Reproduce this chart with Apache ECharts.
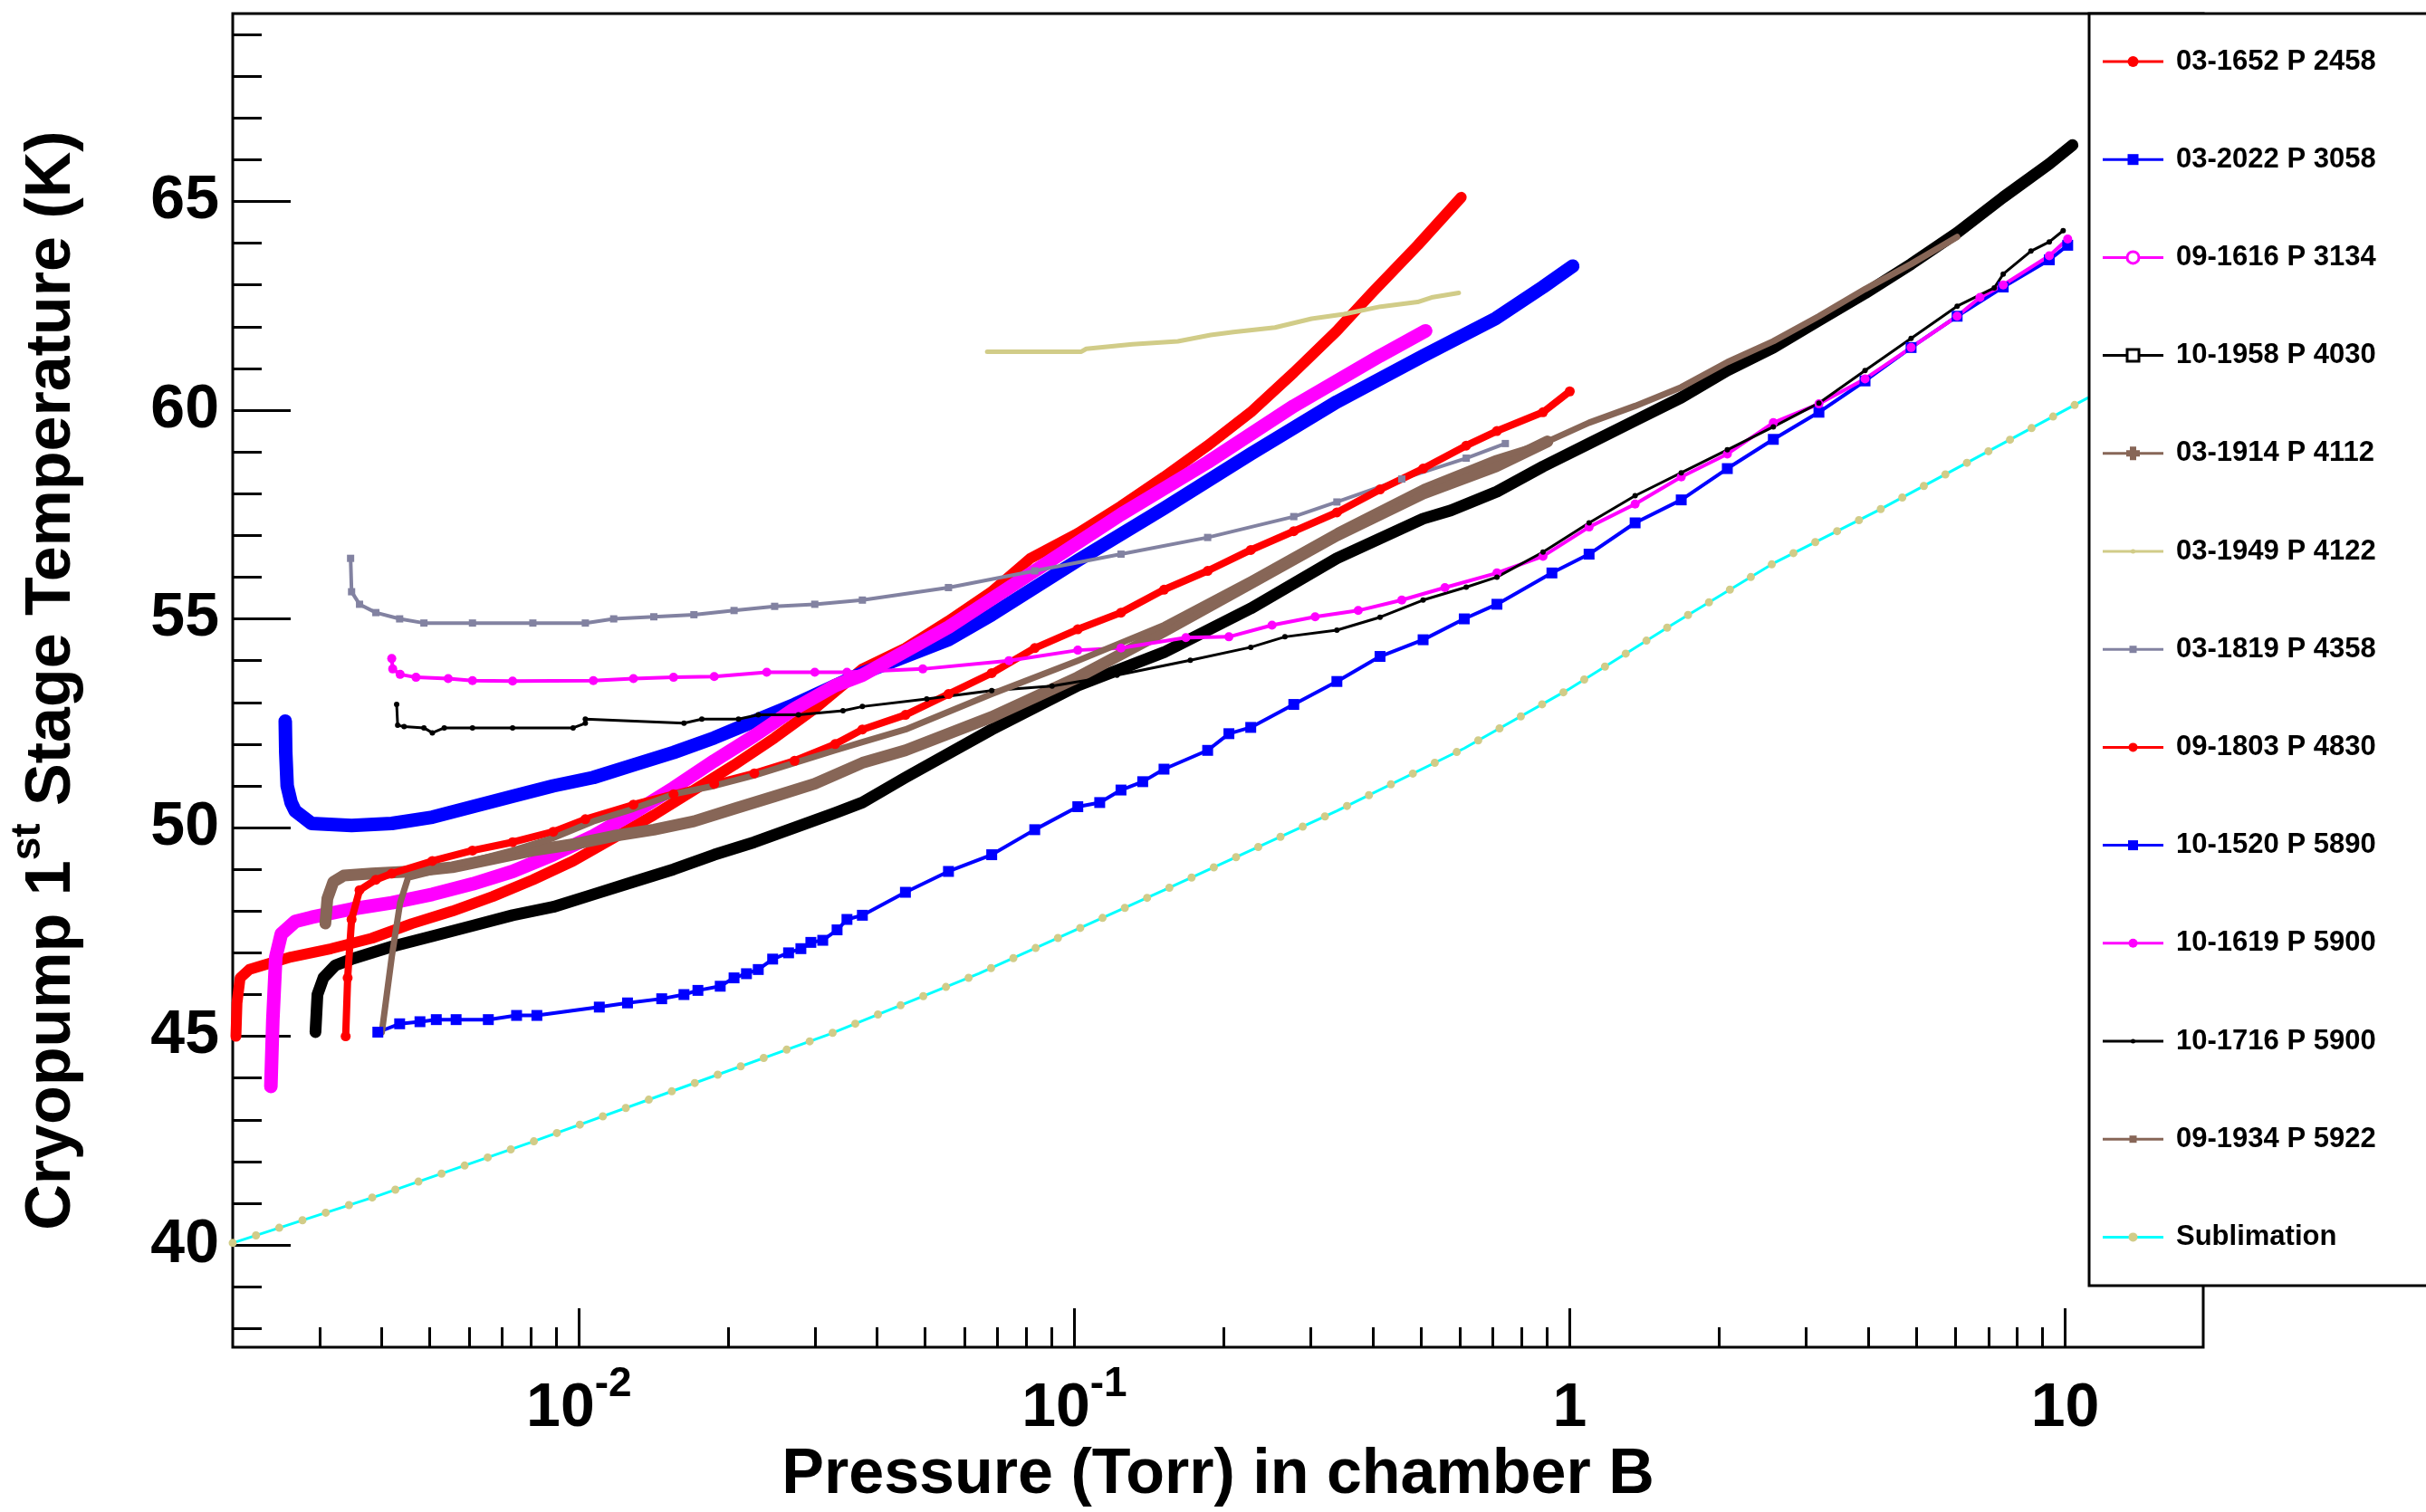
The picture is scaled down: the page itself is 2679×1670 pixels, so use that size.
<!DOCTYPE html>
<html>
<head>
<meta charset="utf-8">
<script src="https://cdn.jsdelivr.net/npm/echarts@6/dist/echarts.min.js"></script>
<style>
  html, body { margin: 0; padding: 0; background: #ffffff; }
  #chart { width: 2679px; height: 1670px; }
</style>
</head>
<body>
<div id="chart"></div>
<script>
// Cryopump first-stage temperature (K) versus chamber B pressure (Torr), one run per array: [pressure, temperature]
const run_03_1652 = [[0.00203,45.0],[0.00204,45.8],[0.00207,46.4],[0.00216,46.6],[0.0023,46.7],[0.00262,46.9],[0.00316,47.1],[0.00382,47.35],[0.0046,47.7],[0.00555,48.0],[0.0067,48.35],[0.00807,48.75],[0.00973,49.2],[0.01175,49.75],[0.01416,50.3],[0.01706,50.9],[0.02056,51.5],[0.02483,52.15],[0.02992,52.85],[0.03733,53.8],[0.0456,54.3],[0.0557,54.95],[0.0681,55.65],[0.0815,56.45],[0.1016,57.05],[0.1242,57.7],[0.1517,58.4],[0.1858,59.15],[0.227,59.95],[0.2773,60.9],[0.3388,61.9],[0.3981,62.8],[0.4932,63.95],[0.6039,65.1]];
const run_03_2022 = [[0.002553,52.55],[0.002559,51.8],[0.002576,51.0],[0.002624,50.6],[0.002673,50.4],[0.002884,50.1],[0.003475,50.05],[0.004188,50.1],[0.005058,50.25],[0.006095,50.5],[0.007345,50.75],[0.008872,51.0],[0.01069,51.2],[0.01288,51.5],[0.01552,51.8],[0.01875,52.15],[0.02259,52.55],[0.02723,52.95],[0.03289,53.4],[0.03733,53.7],[0.0456,54.1],[0.0557,54.5],[0.0681,55.1],[0.1016,56.4],[0.1517,57.65],[0.227,58.95],[0.3388,60.2],[0.5058,61.3],[0.7096,62.2],[0.8831,62.95],[1.014,63.45]];
const run_09_1616 = [[0.002388,43.8],[0.00241,45.4],[0.002443,46.9],[0.002506,47.45],[0.002673,47.75],[0.002884,47.85],[0.003475,48.05],[0.004188,48.2],[0.005058,48.4],[0.006095,48.65],[0.007345,48.95],[0.008872,49.35],[0.01069,49.8],[0.01288,50.35],[0.01552,50.95],[0.01875,51.6],[0.02259,52.2],[0.02723,52.85],[0.03289,53.4],[0.03733,53.65],[0.0557,54.8],[0.08318,56.15],[0.1242,57.5],[0.1858,58.75],[0.2773,60.1],[0.414,61.3],[0.5117,61.9]];
const run_10_1958 = [[0.002938,45.1],[0.002965,46.0],[0.003048,46.4],[0.003221,46.7],[0.003475,46.85],[0.004188,47.15],[0.005058,47.4],[0.006095,47.65],[0.007345,47.9],[0.008872,48.1],[0.01069,48.4],[0.01288,48.7],[0.01552,49.0],[0.01875,49.35],[0.02259,49.65],[0.02723,50.0],[0.03289,50.35],[0.03733,50.6],[0.0456,51.2],[0.0681,52.35],[0.1016,53.4],[0.1517,54.2],[0.227,55.25],[0.3388,56.45],[0.5058,57.4],[0.5754,57.6],[0.7129,58.05],[0.8831,58.65],[1.094,59.2],[1.355,59.75],[1.679,60.3],[2.08,60.95],[2.576,61.5],[3.184,62.15],[3.945,62.8],[4.887,63.5],[6.053,64.25],[7.499,65.1],[9.29,65.9],[10.35,66.35]];
const run_03_1914 = [[0.003076,47.7],[0.003105,48.3],[0.003192,48.7],[0.00335,48.85],[0.00382,48.9],[0.0046,48.95],[0.00555,49.05],[0.0067,49.25],[0.00807,49.45],[0.00973,49.6],[0.01175,49.8],[0.01416,49.95],[0.01706,50.15],[0.02056,50.45],[0.02483,50.75],[0.02992,51.05],[0.03733,51.55],[0.0456,51.85],[0.0681,52.65],[0.1016,53.6],[0.1517,54.7],[0.227,55.85],[0.3388,57.0],[0.5058,58.0],[0.7096,58.65],[0.9016,59.25]];
const run_03_1949 = [[0.06668,61.4],[0.1033,61.4],[0.1057,61.47],[0.1309,61.58],[0.1618,61.65],[0.1884,61.8],[0.2094,61.87],[0.2541,61.98],[0.3013,62.19],[0.3499,62.3],[0.415,62.48],[0.4932,62.59],[0.526,62.7],[0.597,62.81]];
const run_03_1819 = [[0.003459,56.45],[0.003475,55.65],[0.003606,55.35],[0.00389,55.15],[0.004345,55.0],[0.004864,54.9],[0.006095,54.9],[0.00807,54.9],[0.0103,54.9],[0.01175,55.0],[0.01416,55.05],[0.01706,55.1],[0.02056,55.2],[0.02483,55.3],[0.02992,55.35],[0.03733,55.45],[0.0557,55.75],[0.08318,56.15],[0.1242,56.55],[0.1858,56.95],[0.2773,57.45],[0.3388,57.8],[0.4581,58.35],[0.618,58.85],[0.7413,59.2]];
const run_09_1803 = [[0.003381,45.0],[0.003412,46.4],[0.003475,47.8],[0.003606,48.5],[0.00389,48.75],[0.004188,48.9],[0.005058,49.2],[0.006095,49.45],[0.007345,49.65],[0.008872,49.9],[0.0103,50.2],[0.01288,50.55],[0.01552,50.8],[0.01875,51.05],[0.02259,51.3],[0.02723,51.6],[0.03289,52.0],[0.03733,52.35],[0.0456,52.7],[0.0557,53.2],[0.0681,53.7],[0.08318,54.3],[0.1016,54.75],[0.1242,55.15],[0.1517,55.7],[0.1858,56.15],[0.227,56.65],[0.2773,57.1],[0.3388,57.55],[0.414,58.1],[0.5058,58.6],[0.618,59.15],[0.7129,59.5],[0.8831,59.95],[1.0,60.45]];
const run_10_1520 = [[0.003926,45.1],[0.004345,45.3],[0.004775,45.35],[0.005152,45.4],[0.005649,45.4],[0.006561,45.4],[0.007482,45.5],[0.008222,45.5],[0.01099,45.7],[0.01253,45.8],[0.01469,45.9],[0.01629,46.0],[0.01738,46.1],[0.01928,46.2],[0.02056,46.4],[0.02178,46.5],[0.02301,46.6],[0.0246,46.85],[0.02649,47.0],[0.02805,47.1],[0.02938,47.25],[0.03105,47.3],[0.03319,47.55],[0.03475,47.8],[0.03733,47.9],[0.0456,48.45],[0.0557,48.95],[0.0681,49.35],[0.08318,49.95],[0.1016,50.5],[0.1125,50.6],[0.1242,50.9],[0.1374,51.1],[0.1517,51.4],[0.1858,51.85],[0.2051,52.25],[0.227,52.4],[0.2773,52.95],[0.3388,53.5],[0.414,54.1],[0.5058,54.5],[0.6124,55.0],[0.7129,55.35],[0.9204,56.1],[1.094,56.55],[1.355,57.3],[1.679,57.85],[2.08,58.6],[2.576,59.3],[3.184,59.95],[3.945,60.7],[4.887,61.5],[6.053,62.25],[7.499,62.95],[9.29,63.6],[10.12,63.95]];
const run_10_1619 = [[0.004188,54.05],[0.004207,53.8],[0.004355,53.67],[0.004688,53.6],[0.005445,53.57],[0.006095,53.52],[0.007345,53.51],[0.01069,53.52],[0.01288,53.57],[0.01552,53.6],[0.01875,53.62],[0.02393,53.72],[0.02992,53.72],[0.03475,53.72],[0.04943,53.8],[0.07379,54.0],[0.1016,54.25],[0.1242,54.3],[0.1679,54.55],[0.2051,54.57],[0.2506,54.85],[0.3062,55.05],[0.3741,55.2],[0.4581,55.45],[0.5598,55.75],[0.7129,56.1],[0.8831,56.5],[1.094,57.2],[1.355,57.75],[1.679,58.4],[2.08,58.95],[2.576,59.7],[3.184,60.15],[3.945,60.75],[4.887,61.5],[6.053,62.25],[6.73,62.7],[7.499,63.0],[9.29,63.7],[10.12,64.1]];
const run_10_1716 = [[0.004285,52.95],[0.004305,52.45],[0.004436,52.42],[0.004864,52.39],[0.005058,52.27],[0.005346,52.39],[0.006095,52.39],[0.007345,52.39],[0.00973,52.39],[0.0103,52.5],[0.0103,52.6],[0.01629,52.5],[0.0177,52.6],[0.02099,52.6],[0.02301,52.7],[0.02773,52.7],[0.03412,52.8],[0.03733,52.9],[0.05035,53.08],[0.0681,53.28],[0.09016,53.39],[0.1219,53.65],[0.1714,54.01],[0.227,54.32],[0.2661,54.57],[0.3388,54.73],[0.414,55.04],[0.5058,55.45],[0.618,55.76],[0.7129,56.0],[0.8831,56.6],[1.094,57.3],[1.355,57.95],[1.679,58.5],[2.08,59.05],[2.576,59.6],[3.184,60.17],[3.945,60.95],[4.887,61.72],[6.053,62.49],[7.194,62.93],[7.499,63.26],[8.531,63.81],[9.29,64.03],[9.908,64.3]];
const run_09_1934 = [[0.004,45.1],[0.004188,46.9],[0.004355,48.2],[0.004519,48.8],[0.005058,48.95],[0.006095,49.2],[0.007345,49.45],[0.008872,49.75],[0.01069,50.15],[0.01288,50.45],[0.01552,50.8],[0.01875,51.0],[0.02259,51.25],[0.02723,51.55],[0.03289,51.85],[0.03733,52.05],[0.0456,52.35],[0.0681,53.2],[0.1016,54.0],[0.1517,54.85],[0.227,55.95],[0.3388,57.1],[0.5058,58.15],[0.7096,58.85],[0.8831,59.2],[1.094,59.7],[1.355,60.1],[1.679,60.55],[2.08,61.15],[2.576,61.65],[3.184,62.25],[3.945,62.9],[4.887,63.5],[6.053,64.15]];
const sublimation = [[0.002,40.05],[0.00397,41.2],[0.00796,42.45],[0.01596,43.75],[0.032,45.05],[0.0641,46.5],[0.1517,48.5],[0.3388,50.4],[0.6124,51.9],[0.9908,53.3],[1.603,54.85],[2.594,56.35],[4.198,57.6],[11.14,60.3]];

// Run labels in drawing order
const runNames = ['03-1652 P 2458','03-2022 P 3058','09-1616 P 3134','10-1958 P 4030','03-1914 P 4112','03-1949 P 4122','03-1819 P 4358','09-1803 P 4830','10-1520 P 5890','10-1619 P 5900','10-1716 P 5900','09-1934 P 5922','Sublimation'];

// Axis ranges and ticks
const xRange = [0.002, 19];
const yRange = [37.55, 69.5];
const xMajorTicks = [0.01, 0.1, 1, 10];
const xTickBase = ['10', '10', '1', '10'];
const xTickExp = ['-2', '-1', '', ''];
const xMinorTicks = [0.003,0.004,0.005,0.006,0.007,0.008,0.009,0.02,0.03,0.04,0.05,0.06,0.07,0.08,0.09,0.2,0.3,0.4,0.5,0.6,0.7,0.8,0.9,2,3,4,5,6,7,8,9];
const yMajorTicks = [40, 45, 50, 55, 60, 65];
const yMinorTicks = [38,39,40,41,42,43,44,45,46,47,48,49,50,51,52,53,54,55,56,57,58,59,60,61,62,63,64,65,66,67,68,69];

const FONT = '"Liberation Sans", Arial, Helvetica, sans-serif';
const RED = '#ff0000', BLUE = '#0000ff', MAGENTA = '#ff00ff', BLACK = '#000000';
const BROWN = '#876657', KHAKI = '#d1cc88', GREY = '#8282a1', CYAN = '#00ffff';

// Drawing style of each run (same order as runNames)
const runStyles = [
  { data: run_03_1652, color: RED,     width: 12, symbol: 'circle', size: 12, show: false },
  { data: run_03_2022, color: BLUE,    width: 15, symbol: 'rect',   size: 15, show: false },
  { data: run_09_1616, color: MAGENTA, width: 15, symbol: 'circle', size: 15, show: false },
  { data: run_10_1958, color: BLACK,   width: 13, symbol: 'rect',   size: 13, show: false },
  { data: run_03_1914, color: BROWN,   width: 13, symbol: 'rect',   size: 13, show: false },
  { data: run_03_1949, color: KHAKI,   width: 5,  symbol: 'circle', size: 5,  show: false },
  { data: run_03_1819, color: GREY,    width: 4,  symbol: 'rect',   size: 8,  show: true },
  { data: run_09_1803, color: RED,     width: 8,  symbol: 'circle', size: 11, show: true },
  { data: run_10_1520, color: BLUE,    width: 4,  symbol: 'rect',   size: 12, show: true },
  { data: run_10_1619, color: MAGENTA, width: 4,  symbol: 'circle', size: 10, show: true },
  { data: run_10_1716, color: BLACK,   width: 3,  symbol: 'circle', size: 6,  show: true },
  { data: run_09_1934, color: BROWN,   width: 7,  symbol: 'rect',   size: 8,  show: false }
];

const series = runStyles.map((s, i) => ({
  type: 'line',
  name: runNames[i],
  data: s.data,
  xAxisIndex: 0,
  yAxisIndex: 0,
  symbol: s.symbol,
  symbolSize: s.size,
  showSymbol: s.show,
  showAllSymbol: true,
  lineStyle: { color: s.color, width: s.width, cap: 'round', join: 'round' },
  itemStyle: { color: s.color },
  emphasis: { disabled: true },
  silent: true,
  animation: false
}));

// Sublimation curve: cyan line with khaki dots along it
series.push({
  type: 'line', name: runNames[12], data: sublimation, showSymbol: false,
  lineStyle: { color: CYAN, width: 3 }, itemStyle: { color: KHAKI },
  emphasis: { disabled: true }, silent: true, animation: false
});
series.push({
  type: 'line', name: runNames[12], data: sublimation, showSymbol: false,
  lineStyle: { color: KHAKI, width: 9, type: [0, 27], cap: 'round' },
  emphasis: { disabled: true }, silent: true, animation: false
});

// Legend box drawn at the upper right
const legendMarks = [
  { kind: 'dot', r: 6, fill: true },
  { kind: 'square', s: 12, fill: true },
  { kind: 'dot', r: 6.5, fill: false },
  { kind: 'square', s: 13, fill: false },
  { kind: 'cross', s: 15 },
  { kind: 'dot', r: 2.5, fill: true },
  { kind: 'square', s: 8, fill: true },
  { kind: 'dot', r: 5, fill: true },
  { kind: 'square', s: 11, fill: true },
  { kind: 'dot', r: 5, fill: true },
  { kind: 'dot', r: 2.5, fill: true },
  { kind: 'square', s: 8, fill: true },
  { kind: 'dot', r: 5, fill: true }
];
const legendColors = [RED, BLUE, MAGENTA, BLACK, BROWN, KHAKI, GREY, RED, BLUE, MAGENTA, BLACK, BROWN, CYAN];
const legendMarkColors = [RED, BLUE, MAGENTA, BLACK, BROWN, KHAKI, GREY, RED, BLUE, MAGENTA, BLACK, BROWN, KHAKI];

const LEG = { x: 2307, y: 15, w: 420, h: 1405, firstY: 68, step: 108.2, lineX1: 2322, lineX2: 2389, textX: 2403 };
const graphics = [{
  type: 'rect', z: 100,
  shape: { x: LEG.x, y: LEG.y, width: LEG.w, height: LEG.h },
  style: { fill: '#ffffff', stroke: '#000000', lineWidth: 3 }
}];
runNames.forEach((name, i) => {
  const cy = LEG.firstY + i * LEG.step;
  const cx = (LEG.lineX1 + LEG.lineX2) / 2;
  const col = legendColors[i], mcol = legendMarkColors[i];
  graphics.push({ type: 'line', z: 101, shape: { x1: LEG.lineX1, y1: cy, x2: LEG.lineX2, y2: cy }, style: { stroke: col, lineWidth: 3 } });
  const m = legendMarks[i];
  if (m.kind === 'dot') {
    graphics.push({ type: 'circle', z: 102, shape: { cx: cx, cy: cy, r: m.r },
      style: m.fill ? { fill: mcol } : { fill: '#ffffff', stroke: mcol, lineWidth: 3 } });
  } else if (m.kind === 'square') {
    graphics.push({ type: 'rect', z: 102, shape: { x: cx - m.s / 2, y: cy - m.s / 2, width: m.s, height: m.s },
      style: m.fill ? { fill: mcol } : { fill: '#ffffff', stroke: mcol, lineWidth: 3 } });
  } else if (m.kind === 'cross') {
    const h = m.s / 2, a = 3.5;
    graphics.push({ type: 'polygon', z: 102, shape: { points: [
      [cx - a, cy - h], [cx + a, cy - h], [cx + a, cy - a], [cx + h, cy - a], [cx + h, cy + a], [cx + a, cy + a],
      [cx + a, cy + h], [cx - a, cy + h], [cx - a, cy + a], [cx - h, cy + a], [cx - h, cy - a], [cx - a, cy - a]] },
      style: { fill: mcol } });
  }
  graphics.push({ type: 'text', z: 102, style: { text: name, x: LEG.textX, y: cy, font: 'bold 31px ' + FONT, fill: '#000000', verticalAlign: 'middle', align: 'left' } });
});

const tickLine = { color: '#000000', width: 3 };
const chart = echarts.init(document.getElementById('chart'), null, { renderer: 'canvas' });
chart.setOption({
  backgroundColor: '#ffffff',
  animation: false,
  grid: { left: 247, top: 15, width: 2186, height: 1480, show: true, borderColor: '#000000', borderWidth: 3, backgroundColor: 'transparent', containLabel: false },
  xAxis: [{
    type: 'log', logBase: 10, min: xRange[0], max: xRange[1], position: 'bottom',
    axisLine: { show: false }, splitLine: { show: false }, minorTick: { show: false },
    axisTick: { show: true, inside: true, length: 43, lineStyle: tickLine, customValues: xMajorTicks },
    axisLabel: {
      customValues: xMajorTicks, margin: 18,
      formatter: function (v) {
        const k = xMajorTicks.findIndex(t => Math.abs(Math.log10(t) - Math.log10(v)) < 1e-6);
        if (k < 0) return '';
        return xTickExp[k] ? '{m|' + xTickBase[k] + '}{s|' + xTickExp[k] + '}' : '{m|' + xTickBase[k] + '}';
      },
      rich: {
        m: { fontSize: 68, fontWeight: 'bold', fontFamily: FONT, color: '#000', lineHeight: 100 },
        s: { fontSize: 46, fontWeight: 'bold', fontFamily: FONT, color: '#000', lineHeight: 46, verticalAlign: 'top' }
      }
    },
    name: 'Pressure (Torr) in chamber B', nameLocation: 'middle', nameGap: 98,
    nameTextStyle: { fontSize: 70, fontWeight: 'bold', fontFamily: FONT, color: '#000', lineHeight: 70 }
  }, {
    type: 'log', logBase: 10, min: xRange[0], max: xRange[1], position: 'bottom',
    axisLine: { show: false }, splitLine: { show: false }, axisLabel: { show: false },
    axisTick: { show: true, inside: true, length: 22, lineStyle: tickLine, customValues: xMinorTicks }
  }],
  yAxis: [{
    type: 'value', min: yRange[0], max: yRange[1], position: 'left',
    axisLine: { show: false }, splitLine: { show: false },
    axisTick: { show: true, inside: true, length: 64, lineStyle: tickLine, customValues: yMajorTicks },
    axisLabel: { customValues: yMajorTicks, fontSize: 68, fontWeight: 'bold', fontFamily: FONT, color: '#000', margin: 15 },
    name: '{t|Cryopump 1}{s|st}{t| Stage Temperature (K)}', nameLocation: 'middle', nameRotate: 90, nameGap: 149,
    nameTextStyle: {
      fontSize: 70, fontWeight: 'bold', fontFamily: FONT, color: '#000',
      rich: {
        t: { fontSize: 70, fontWeight: 'bold', fontFamily: FONT, color: '#000', lineHeight: 100 },
        s: { fontSize: 46, fontWeight: 'bold', fontFamily: FONT, color: '#000', lineHeight: 46, verticalAlign: 'top' }
      }
    }
  }, {
    type: 'value', min: yRange[0], max: yRange[1], position: 'left', offset: 0,
    axisLine: { show: false }, splitLine: { show: false }, axisLabel: { show: false },
    axisTick: { show: true, inside: true, length: 32, lineStyle: tickLine, customValues: yMinorTicks }
  }],
  series: series,
  graphic: graphics
});
</script>
</body>
</html>
